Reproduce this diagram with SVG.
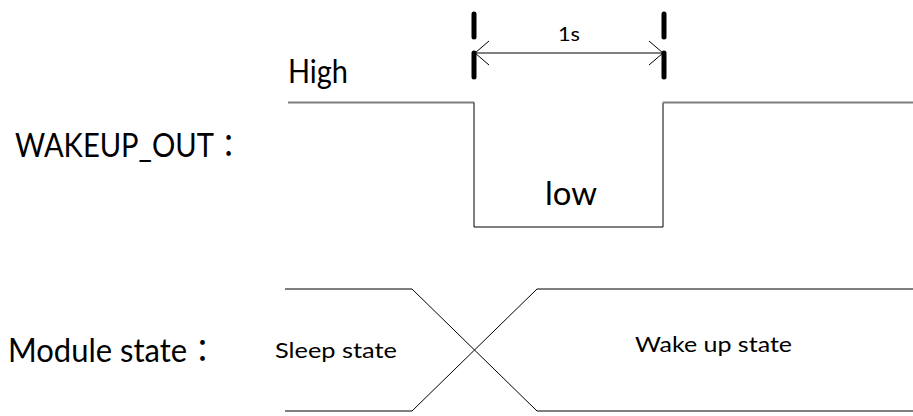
<svg xmlns="http://www.w3.org/2000/svg" width="913" height="416" viewBox="0 0 913 416">
<defs>
<style>
text{font-family:Lato,"Noto Sans CJK JP","Noto Sans CJK SC",sans-serif;fill:#000}
.big{font-size:32px}
.small{font-size:21px}
.hi{stroke:#7f7f7f;stroke-width:2;fill:none}
.lo{stroke:#000;stroke-width:1;fill:none}
.tick{stroke:#000;stroke-width:5;stroke-linecap:round}
</style>
<marker id="open" viewBox="0 0 16 26" refX="15" refY="13" markerWidth="16" markerHeight="26" markerUnits="userSpaceOnUse" orient="auto-start-reverse">
<path d="M1,1 L15,13 L1,25" fill="none" stroke="#000" stroke-width="1"/>
</marker>
</defs>
<rect width="913" height="416" fill="#fff"/>

<g id="labels">
<text class="big" x="15" y="157" textLength="228" lengthAdjust="spacingAndGlyphs">WAKEUP_OUT：</text>
<text class="big" x="8" y="362" textLength="210" lengthAdjust="spacingAndGlyphs">Module state：</text>
</g>

<g id="wakeup-signal">
<path class="hi" d="M288,102.5 H474"/>
<path class="lo" d="M474,102.5 V227 H663 V102.5"/>
<path class="hi" d="M663,102.5 H913"/>
<text class="big" x="288" y="83" textLength="60" lengthAdjust="spacingAndGlyphs">High</text>
<text class="big" x="545" y="205" textLength="52" lengthAdjust="spacingAndGlyphs">low</text>
</g>

<g id="duration">
<line class="tick" x1="474" y1="14" x2="474" y2="37"/>
<line class="tick" x1="474" y1="53" x2="474" y2="77"/>
<line class="tick" x1="664" y1="14" x2="664" y2="37"/>
<line class="tick" x1="664" y1="53" x2="664" y2="77"/>
<line class="lo" x1="475" y1="53" x2="663" y2="53" marker-start="url(#open)" marker-end="url(#open)"/>
<text x="558" y="41" font-size="20" textLength="22" lengthAdjust="spacingAndGlyphs">1s</text>
</g>

<g id="module-state">
<path class="hi" d="M285,289 H412"/>
<path class="lo" d="M285,411 H412"/>
<path class="lo" d="M412,289 L537,411"/>
<path class="lo" d="M412,411 L537,289"/>
<path class="hi" d="M537,289 H913"/>
<path class="lo" d="M537,411 H913"/>
<text class="small" x="275" y="358" textLength="122" lengthAdjust="spacingAndGlyphs">Sleep state</text>
<text class="small" x="635" y="352" textLength="157" lengthAdjust="spacingAndGlyphs">Wake up state</text>
</g>
</svg>
